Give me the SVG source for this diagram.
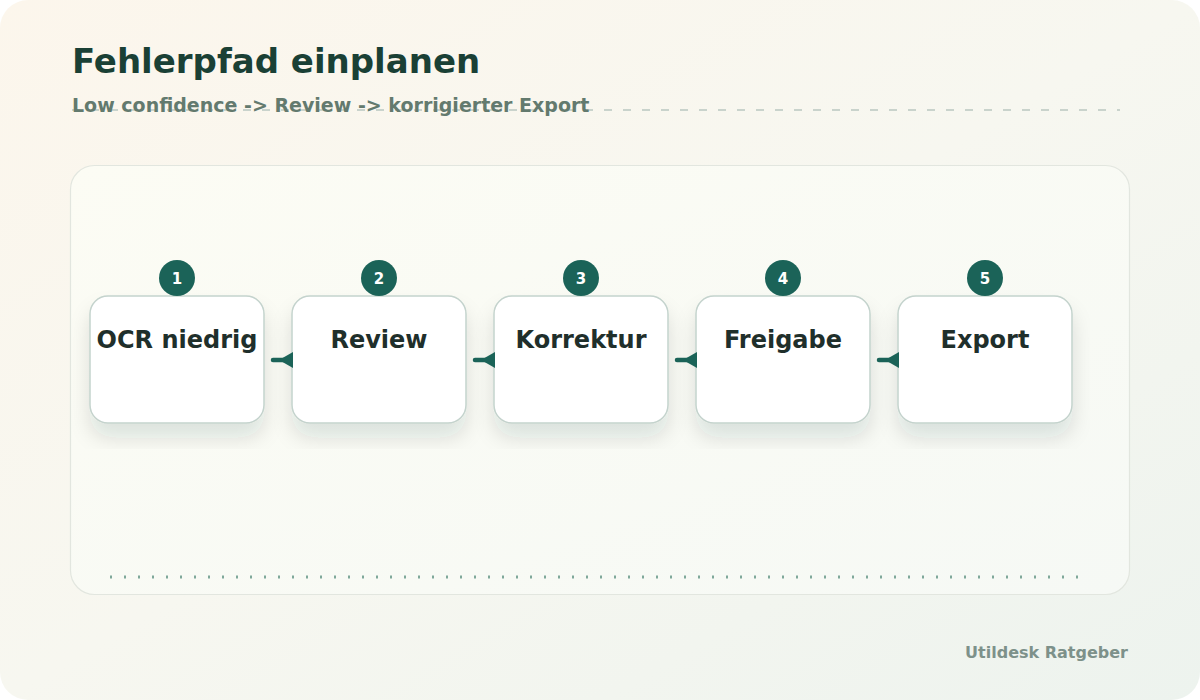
<svg xmlns="http://www.w3.org/2000/svg" width="1200" height="700" viewBox="0 0 1200 700">
<defs>
<linearGradient id="bg" x1="0" y1="0" x2="1" y2="1">
<stop offset="0" stop-color="#fcf6ec"/>
<stop offset="0.5" stop-color="#f7f7f0"/>
<stop offset="1" stop-color="#edf3ee"/>
</linearGradient>
<linearGradient id="panel" x1="0" y1="0" x2="1" y2="1">
<stop offset="0" stop-color="#fcfcf4"/>
<stop offset="1" stop-color="#f6f9f5"/>
</linearGradient>
<filter id="sh" x="-10%" y="-20%" width="120%" height="140%">
<feDropShadow dx="0" dy="14" stdDeviation="10" flood-color="#1c3a33" flood-opacity="0.12"/>
</filter>
<style>
.title{font-family:"DejaVu Sans",sans-serif;font-weight:bold;font-size:34px;fill:#1a4035}
.sub{font-family:"DejaVu Sans",sans-serif;font-weight:bold;font-size:19px;fill:#637a6e}
.foot{font-family:"DejaVu Sans",sans-serif;font-weight:bold;font-size:16px;fill:#7d918a}
.box{fill:#ffffff;stroke:#c4d3cd;stroke-width:1.5}
.lbl{font-family:"DejaVu Sans",sans-serif;font-weight:bold;font-size:24px;fill:#1f2f2b;text-anchor:middle}
.badge{fill:#1b6358}
.num{font-family:"DejaVu Sans",sans-serif;font-weight:bold;font-size:15px;fill:#ffffff;text-anchor:middle}
.conn{stroke:#1b6358;stroke-width:4.5;fill:none;stroke-linecap:round}
.head{fill:#1b6358}
</style>
</defs>
<rect x="0" y="0" width="1200" height="700" fill="#ffffff"/>
<rect x="0" y="0" width="1200" height="700" rx="28" fill="url(#bg)"/>
<text class="title" x="72" y="73">Fehlerpfad einplanen</text>
<line x1="72" y1="110" x2="1120" y2="110" stroke="#c9d3cc" stroke-width="2" stroke-dasharray="8 11"/>
<text class="sub" x="72" y="112">Low confidence -&gt; Review -&gt; korrigierter Export</text>
<rect x="70.5" y="165.5" width="1059" height="429" rx="24" fill="url(#panel)" stroke="#e2e6df" stroke-width="1.2"/>
<line x1="110" y1="577" x2="1080" y2="577" stroke="#7fa89a" stroke-width="3" stroke-dasharray="2 12"/>
<g id="node1">
<rect class="box" x="90" y="296" width="174" height="127" rx="18" filter="url(#sh)"/>
<text class="lbl" x="177" y="348">OCR niedrig</text>
<circle class="badge" cx="177" cy="278" r="18"/>
<text class="num" x="177" y="284">1</text>
</g>
<g id="node2">
<rect class="box" x="292" y="296" width="174" height="127" rx="18" filter="url(#sh)"/>
<text class="lbl" x="379" y="348">Review</text>
<circle class="badge" cx="379" cy="278" r="18"/>
<text class="num" x="379" y="284">2</text>
</g>
<g id="node3">
<rect class="box" x="494" y="296" width="174" height="127" rx="18" filter="url(#sh)"/>
<text class="lbl" x="581" y="348">Korrektur</text>
<circle class="badge" cx="581" cy="278" r="18"/>
<text class="num" x="581" y="284">3</text>
</g>
<g id="node4">
<rect class="box" x="696" y="296" width="174" height="127" rx="18" filter="url(#sh)"/>
<text class="lbl" x="783" y="348">Freigabe</text>
<circle class="badge" cx="783" cy="278" r="18"/>
<text class="num" x="783" y="284">4</text>
</g>
<g id="node5">
<rect class="box" x="898" y="296" width="174" height="127" rx="18" filter="url(#sh)"/>
<text class="lbl" x="985" y="348">Export</text>
<circle class="badge" cx="985" cy="278" r="18"/>
<text class="num" x="985" y="284">5</text>
</g>
<g id="connectors">
<line class="conn" x1="284" y1="360" x2="273" y2="360"/>
<path class="head" d="M279 360 L293 352 L293 368 Z"/>
<line class="conn" x1="486" y1="360" x2="475" y2="360"/>
<path class="head" d="M481 360 L495 352 L495 368 Z"/>
<line class="conn" x1="688" y1="360" x2="677" y2="360"/>
<path class="head" d="M683 360 L697 352 L697 368 Z"/>
<line class="conn" x1="890" y1="360" x2="879" y2="360"/>
<path class="head" d="M885 360 L899 352 L899 368 Z"/>
</g>
<text class="foot" x="1128" y="658" text-anchor="end">Utildesk Ratgeber</text>
</svg>
